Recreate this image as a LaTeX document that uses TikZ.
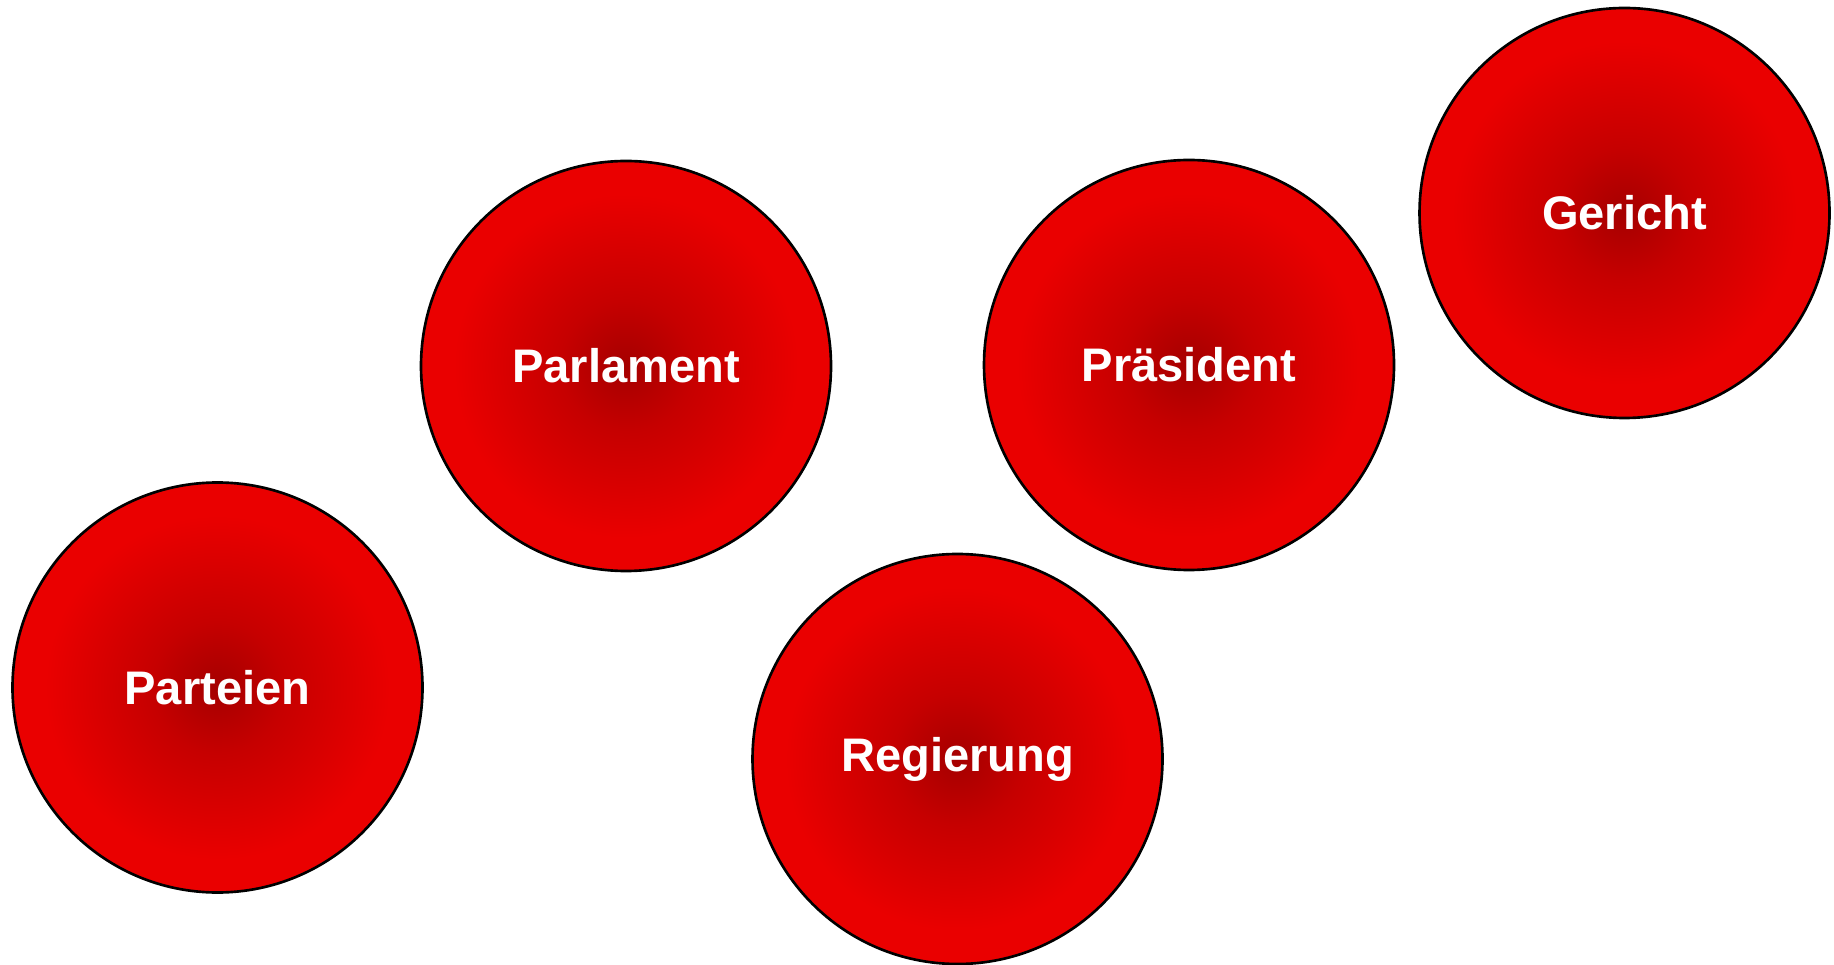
\documentclass[tikz,border=0pt]{standalone}
\usepackage{fontspec}
\setmainfont{Liberation Sans}
\usepackage{tikz}
\definecolor{ballcenter}{RGB}{165,0,0}
\definecolor{ballmid}{RGB}{198,0,0}
\definecolor{ballrim}{RGB}{234,0,0}
\pgfdeclareradialshading{redball}{\pgfpoint{0bp}{0bp}}{color(0bp)=(ballcenter); color(8bp)=(ballmid); color(21bp)=(ballrim); color(50bp)=(ballrim)}

\begin{document}
\begin{tikzpicture}[organ/.style={circle, draw=black, line width=0.75pt, shading=redball, minimum size=4.1cm, inner sep=0pt, text=white, font=\fontsize{13.4}{16}\selectfont\bfseries}]
            \useasboundingbox (0,0) rectangle (18.34,9.64);
            \node[organ] (parlament) at (6.26,5.98) {Parlament};
            \node[organ] (praesident) at (11.89,5.99) {Präsident};
            \node[organ] (gericht) at (16.245,7.51) {Gericht};
            \node[organ] (parteien) at (2.175,2.765) {Parteien};
            \node[organ] (regierung) at (9.575,2.05) {Regierung};
        \end{tikzpicture}
\end{document}
